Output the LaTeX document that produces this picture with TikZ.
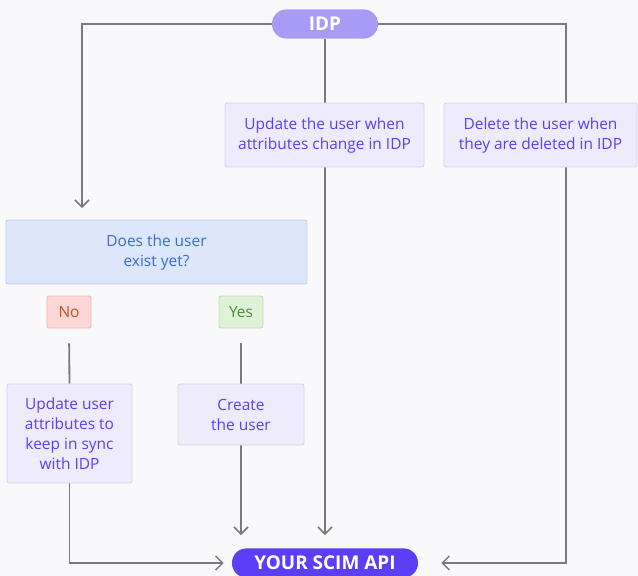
\documentclass[tikz,border=0pt]{standalone}
\usepackage{fontspec}
\setmainfont{Open Sans}
\usepackage{tikz}
\usetikzlibrary{arrows.meta, positioning, backgrounds}
\usepackage{xcolor}
\definecolor{BG}{RGB}{249,249,251}
\definecolor{LN}{RGB}{122,122,122}
\definecolor{PL}{RGB}{168,155,245}
\definecolor{PD}{RGB}{91,62,245}
\definecolor{PB}{RGB}{238,235,253}
\definecolor{PE}{RGB}{214,210,230}
\definecolor{QB}{RGB}{220,231,251}
\definecolor{QE}{RGB}{195,208,232}
\definecolor{QT}{RGB}{58,106,212}
\definecolor{NB}{RGB}{253,214,214}
\definecolor{NE}{RGB}{237,185,185}
\definecolor{NT}{RGB}{200,80,42}
\definecolor{YB}{RGB}{222,243,214}
\definecolor{YE}{RGB}{194,221,184}
\definecolor{YT}{RGB}{78,138,62}

\begin{document}
\begin{tikzpicture}[
  font=\fontsize{11}{14.2}\selectfont,
  pill/.style={fill=#1, text=white, rounded corners=0.36cm, inner sep=0pt,
               minimum height=0.73cm, font=\fontsize{13.5}{15}\selectfont\bfseries},
  step box/.style={draw=PE, fill=PB, text=PD, rounded corners=1.5pt, inner sep=0pt,
                   align=center, line width=0.6pt},
  ask/.style={draw=QE, fill=QB, text=QT, rounded corners=1.5pt, inner sep=0pt,
              align=center, line width=0.6pt, minimum width=7.525cm, minimum height=1.6cm},
  tag/.style={draw=#1E, fill=#1B, text=#1T, rounded corners=1.5pt, inner sep=0pt,
              minimum width=1.1cm, minimum height=0.8cm, line width=0.6pt},
  link/.style={draw=LN, line width=1.3pt},
  arr/.style={link, -{Straight Barb[length=5pt, width=10pt, line width=1.1pt]}}
]
\useasboundingbox (0,0) rectangle (15.95,-14.4);

% Top and bottom endpoints
\node[pill=PL, minimum width=2.65cm] (idp) at (8.125,-0.6) {IDP};
\node[pill=PD, minimum width=4.65cm] (api) at (8.125,-14.075) {YOUR SCIM API};

% Sync events coming from the IDP
\node[step box, minimum width=4.975cm, minimum height=1.6cm] (upd) at (8.1125,-3.375)
  {Update the user when\\attributes change in IDP};
\node[step box, minimum width=4.825cm, minimum height=1.6cm] (del) at (13.5125,-3.375)
  {Delete the user when\\they are deleted in IDP};

% Provisioning branch
\node[ask] (ask) at (3.9125,-6.3) {Does the user\\exist yet?};
\node[tag=N] (no)  at (1.725,-7.8) {No};
\node[tag=Y] (yes) at (6.025,-7.8) {Yes};
\node[step box, minimum width=3.125cm, minimum height=2.475cm] (sync) at (1.7375,-10.8375)
  {Update user\\attributes to\\keep in sync\\with IDP};
\node[step box, minimum width=3.15cm, minimum height=1.525cm] (create) at (6.025,-10.3625)
  {Create\\the user};

\coordinate (askin) at (2.05,-5.2);
\coordinate (delcol) at (14.15,-3.375);

% Connectors sit under the boxes
\begin{scope}[on background layer]
  \fill[BG] (0,0) rectangle (15.95,-14.4);
  \draw[arr] (idp.west) -| (askin);
  \draw[arr, shorten >=0.325cm] (idp.south) -- (api.north);
  \draw[arr, shorten >=0.575cm] (idp.east) -| (delcol) |- (api.east);
  \draw[link, shorten <=0.375cm] (no.south) -- (sync.north);
  \draw[link, shorten <=0.375cm] (yes.south) -- (create.north);
  \draw[arr, shorten >=0.325cm] (create.south) -- (create.south |- api.north);
  \draw[arr, shorten >=0.2cm] (sync.south) |- (api.west);
\end{scope}
\end{tikzpicture}
\end{document}
